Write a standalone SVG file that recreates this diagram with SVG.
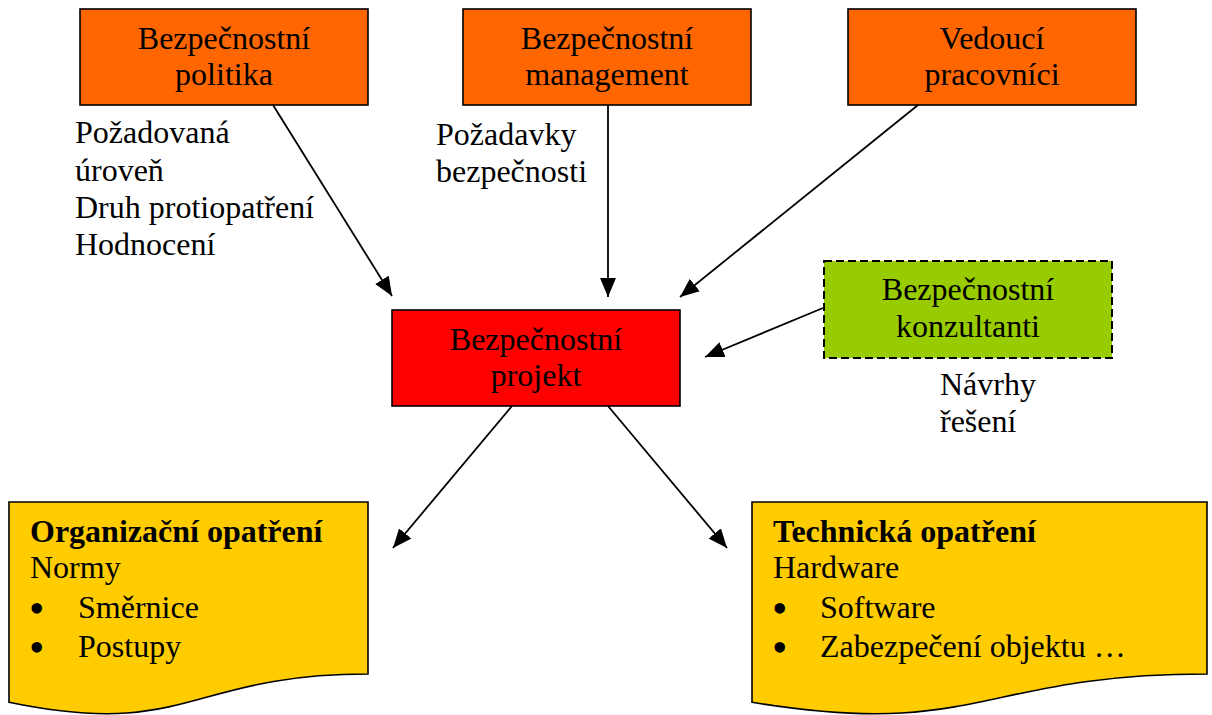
<svg xmlns="http://www.w3.org/2000/svg" width="1212" height="715" viewBox="0 0 1212 715">
<style>
text { font-family: "Liberation Serif", "Times New Roman", serif; font-size: 32px; fill: #000; }
.c { text-anchor: middle; }
.b { font-weight: bold; }
.bul { font-size: 44px; }
.box { stroke: #000; stroke-width: 1.6; }
.orange { fill: #FF6600; }
.red { fill: #FF0000; }
.green { fill: #99CC00; stroke-width: 2; stroke-dasharray: 8 4; }
.yellow { fill: #FFCC00; }
.conn line { stroke: #000; stroke-width: 1.8; fill: none; marker-end: url(#arr); }
</style>
<defs>
<marker id="arr" markerUnits="userSpaceOnUse" markerWidth="20" markerHeight="16" viewBox="0 0 20 16" refX="19" refY="8" orient="auto">
<path d="M0,0 L19,8 L0,16 Z" fill="#000"/>
</marker>
</defs>
<g id="politika">
<rect class="box orange" x="80" y="9" width="288" height="96"/>
<text class="c" x="224" y="49">Bezpečnostní</text>
<text class="c" x="224" y="85">politika</text>
</g>
<g id="management">
<rect class="box orange" x="463" y="9" width="288" height="96"/>
<text class="c" x="607" y="49">Bezpečnostní</text>
<text class="c" x="607" y="85">management</text>
</g>
<g id="vedouci">
<rect class="box orange" x="848" y="9" width="288" height="96"/>
<text class="c" x="992" y="49">Vedoucí</text>
<text class="c" x="992" y="85">pracovníci</text>
</g>
<g id="projekt">
<rect class="box red" x="392" y="310" width="288" height="96"/>
<text class="c" x="536" y="350">Bezpečnostní</text>
<text class="c" x="536" y="386">projekt</text>
</g>
<g id="konzultanti">
<rect class="box green" x="824" y="261" width="288" height="97"/>
<text class="c" x="968" y="300">Bezpečnostní</text>
<text class="c" x="968" y="337">konzultanti</text>
</g>
<g id="organizacni">
<path class="box yellow" d="M9,502 H368 V674 C188.5,674 188.5,739.6 9,702.3 Z"/>
<text class="b" x="30" y="542">Organizační opatření</text>
<text x="30" y="578">Normy</text>
<text class="bul" x="29" y="623">•</text>
<text x="78" y="618">Směrnice</text>
<text class="bul" x="29" y="662">•</text>
<text x="78" y="657">Postupy</text>
</g>
<g id="technicka">
<path class="box yellow" d="M752,502 H1207 V674 C979.5,674 979.5,739.6 752,702.3 Z"/>
<text class="b" x="773" y="542">Technická opatření</text>
<text x="773" y="578">Hardware</text>
<text class="bul" x="772" y="623">•</text>
<text x="820" y="618">Software</text>
<text class="bul" x="772" y="662">•</text>
<text x="820" y="657">Zabezpečení objektu …</text>
</g>
<g id="labels">
<text x="75" y="143">Požadovaná</text>
<text x="75" y="181">úroveň</text>
<text x="75" y="218">Druh protiopatření</text>
<text x="75" y="255">Hodnocení</text>
<text x="436" y="145">Požadavky</text>
<text x="436" y="182">bezpečnosti</text>
<text x="940" y="395">Návrhy</text>
<text x="940" y="432">řešení</text>
</g>
<g id="connectors" class="conn">
<line x1="273" y1="105" x2="392" y2="296"/>
<line x1="608" y1="105" x2="608" y2="297"/>
<line x1="918" y1="105" x2="680" y2="297"/>
<line x1="823" y1="308" x2="705" y2="357"/>
<line x1="512" y1="406" x2="393" y2="548"/>
<line x1="608" y1="406" x2="727" y2="548"/>
</g>
</svg>
